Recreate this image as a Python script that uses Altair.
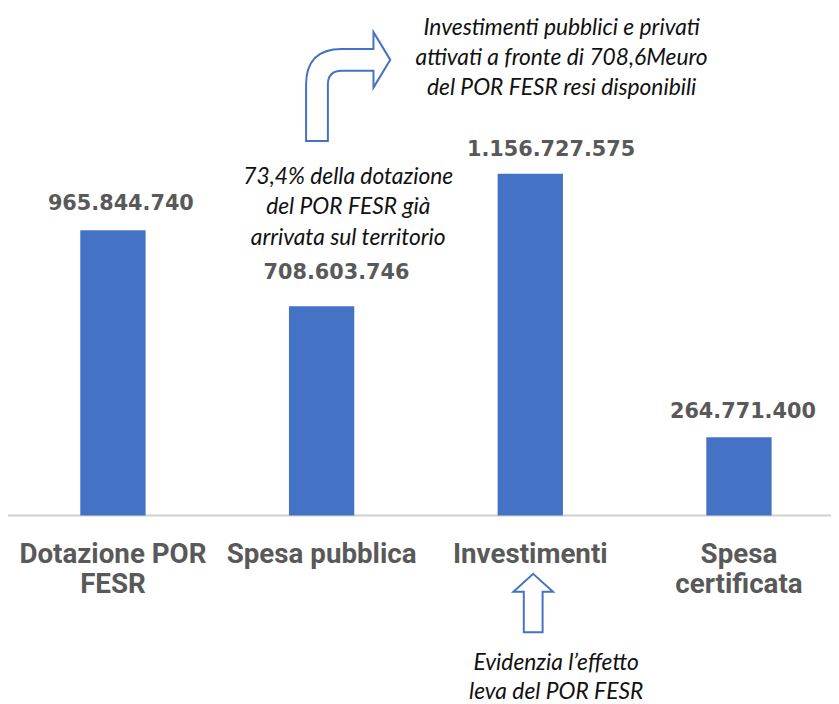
import altair as alt
import pandas as pd

# ---- data ----
categories = ["Dotazione POR FESR", "Spesa pubblica", "Investimenti", "Spesa certificata"]
category_lines = ["Dotazione POR\nFESR", "Spesa pubblica", "Investimenti", "Spesa\ncertificata"]
values = [965844740, 708603746, 1156727575, 264771400]

note_top = "Investimenti pubblici e privati\nattivati a fronte di 708,6Meuro\ndel POR FESR resi disponibili"
note_mid = "73,4% della dotazione\ndel POR FESR già\narrivata sul territorio"
note_bottom = "Evidenzia l’effetto\nleva del POR FESR"

# ---- styling / layout constants ----
BLUE = "#4472C4"
GREY = "#595959"
W, H = 831, 696
label_dx = [8, 15, 21, 4]
label_dy = [-20, -27, -18, -19]

def fmt(v):
    return f"{v:,}".replace(",", ".")

df = pd.DataFrame({
    "categoria": categories,
    "valore": values,
    "riga": category_lines,
    "etichetta": [fmt(v) for v in values],
})

xs = alt.Scale(paddingInner=0.687, paddingOuter=0.3155, align=0.549)
ys = alt.Scale(domain=[-627.1e6, 1706.9e6], nice=False, zero=False)
X = alt.X("categoria:N", sort=categories, scale=xs, axis=None)

base = alt.Chart(df)

bars = base.mark_bar(color=BLUE).encode(
    x=X,
    y=alt.Y("valore:Q", scale=ys, axis=None),
    y2=alt.datum(0),
)

baseline = alt.Chart(pd.DataFrame({"z": [0]})).mark_rule(
    color="#d0d0d0", strokeWidth=2
).encode(
    y=alt.YDatum(0, axis=None),
    x=alt.value(-3),
    x2=alt.value(W),
)

cat_text = base.mark_text(
    font="Roboto", fontWeight="bold", fontSize=28, color=GREY,
    align="center", baseline="alphabetic", dy=48, lineBreak="\n", lineHeight=30,
).encode(
    x=X,
    y=alt.YDatum(0, axis=None),
    text="riga:N",
)

value_layers = []
for i, c in enumerate(categories):
    value_layers.append(
        base.transform_filter(alt.datum.categoria == c).mark_text(
            font="DejaVu Sans", fontWeight="bold", fontSize=21, color=GREY,
            align="center", baseline="alphabetic", dx=label_dx[i], dy=label_dy[i],
        ).encode(
            x=X,
            y=alt.Y("valore:Q", scale=ys, axis=None),
            text="etichetta:N",
        )
    )

one = alt.Chart(pd.DataFrame({"a": [0]}))

def note(txt, x, y, lh):
    return one.mark_text(
        font="Lato", fontStyle="italic", fontSize=23, color="#111111",
        align="center", baseline="alphabetic", lineBreak="\n", lineHeight=lh,
    ).encode(x=alt.value(x), y=alt.value(y), text=alt.value(txt))

notes = [
    note(note_top, 559, 24, 30),
    note(note_mid, 343.5, 174, 31),
    note(note_bottom, 553.5, 665, 29),
]

bent_path = ("M -0.773,1 L -0.773,-0.036 Q -0.773,-0.691 -0.118,-0.691 "
             "L 0.464,-0.691 L 0.464,-1 L 0.773,-0.491 L 0.464,0.018 "
             "L 0.464,-0.291 L -0.118,-0.291 Q -0.373,-0.291 -0.373,-0.036 "
             "L -0.373,1 Z")
up_path = ("M 0,-1 L 0.678,-0.39 L 0.322,-0.39 L 0.322,1 L -0.322,1 "
           "L -0.322,-0.39 L -0.678,-0.39 Z")

bent_arrow = one.mark_point(
    shape=bent_path, size=12100, filled=False, stroke=BLUE, strokeWidth=2, opacity=1
).encode(x=alt.value(343.5), y=alt.value(76))

up_arrow = one.mark_point(
    shape=up_path, size=3481, filled=False, stroke=BLUE, strokeWidth=2, opacity=1
).encode(x=alt.value(530.3), y=alt.value(597.5))

chart = alt.layer(
    baseline, bars, cat_text, *value_layers, *notes, bent_arrow, up_arrow
).properties(
    width=W, height=H, autosize=alt.AutoSizeParams(type="none"), padding=0,
    background="white",
).configure_view(stroke=None).configure_axis(grid=False)

chart.save("out.html", embed_options={"renderer": "svg", "actions": False})
